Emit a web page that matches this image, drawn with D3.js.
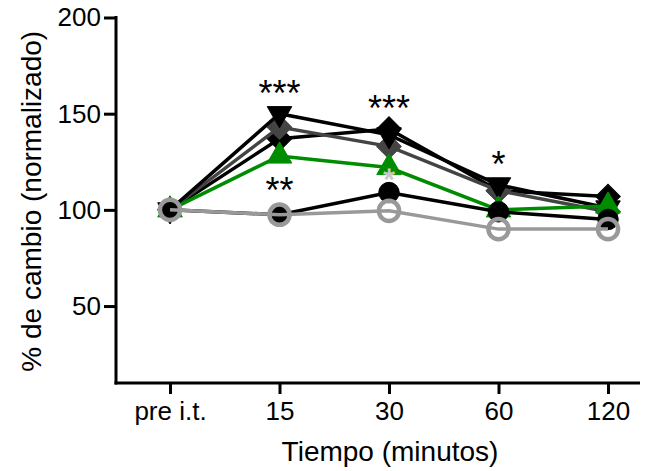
<!DOCTYPE html>
<html>
<head>
<meta charset="utf-8">
<script src="https://cdn.jsdelivr.net/npm/d3@7"></script>
<style>
  body { margin: 0; background: #fff; }
  text { font-family: 'Liberation Sans', Arial, sans-serif; }
</style>
</head>
<body>
<div id="chart"></div>
<script>
const categories = ['pre i.t.', '15', '30', '60', '120'];
const yTicks = [50, 100, 150, 200];

// one array per group, drawn bottom to top
const blackDiamond = [100, 137, 142, 110, 107];
const grayDiamond = [100, 143, 133, 110, 99];
const downTriangle = [100, 150, 139, 113, 101];
const greenTriangle = [100, 128, 122, 100, 102];
const blackCircle = [100, 97.5, 109, 99, 95];
const grayCircle = [100, 97.5, 99.5, 90, 90];

const stars = [
  { cat: '15', value: 150, text: '***', pos: 'above', color: '#000' },
  { cat: '15', value: 128, text: '**', pos: 'below', color: '#000' },
  { cat: '30', value: 142, text: '***', pos: 'above', color: '#000' },
  { cat: '60', value: 113, text: '*', pos: 'above', color: '#000' },
  { cat: '30', value: 122, text: '*', pos: 'inside', color: '#c8c8c8' },
];

const width = 652;
const height = 471;

const svg = d3.select('#chart').append('svg').attr('width', width).attr('height', height);

const x = d3.scalePoint().domain(categories).range([170, 608]);
const y = d3.scaleLinear().domain([10, 200]).range([383, 17.5]);

const axisLeft = 116;
const axisRight = 640;

const series = [
  { values: blackDiamond, color: '#000', fill: '#000', shape: d3.symbolSquare, size: 300, rot: 45 },
  { values: grayDiamond, color: '#444', fill: '#444', shape: d3.symbolSquare, size: 300, rot: 45 },
  { values: downTriangle, color: '#000', fill: '#000', shape: d3.symbolTriangle, size: 260, rot: 180 },
  { values: greenTriangle, color: '#008c00', fill: '#008c00', shape: d3.symbolTriangle, size: 260, rot: 0 },
  { values: blackCircle, color: '#000', fill: '#000', shape: d3.symbolCircle, size: 330, rot: 0 },
  { values: grayCircle, color: '#999', fill: 'none', shape: d3.symbolCircle, size: 320, rot: 0, ring: true },
];

const line = d3.line().x((d, i) => x(categories[i])).y((d) => y(d));

series.forEach((s) => {
  const g = svg.append('g');
  g.append('path')
    .attr('d', line(s.values))
    .attr('fill', 'none')
    .attr('stroke', s.color)
    .attr('stroke-width', 3.5);
  g.selectAll('path.marker')
    .data(s.values)
    .enter()
    .append('path')
    .attr('class', 'marker')
    .attr('d', d3.symbol().type(s.shape).size(s.size))
    .attr('transform', (d, i) => `translate(${x(categories[i])},${y(d)}) rotate(${s.rot})`)
    .attr('fill', s.fill)
    .attr('stroke', s.color)
    .attr('stroke-width', s.ring ? 4.5 : 1);
});

// asterisks
svg.selectAll('.star')
  .data(stars)
  .enter()
  .append('text')
  .attr('class', 'star')
  .attr('x', (d) => x(d.cat))
  .attr('y', (d) => {
    if (d.pos === 'above') return y(d.value) - 8;
    if (d.pos === 'below') return y(d.value) + 47;
    return y(d.value) + 21;
  })
  .attr('text-anchor', 'middle')
  .attr('fill', (d) => d.color)
  .attr('stroke', (d) => (d.pos === 'inside' ? d.color : 'none'))
  .attr('stroke-width', 0.8)
  .style('font-size', (d) => (d.pos === 'inside' ? '30px' : '36px'))
  .text((d) => d.text);

// y axis
const yAxis = svg.append('g')
  .attr('transform', `translate(${axisLeft},0)`)
  .call(d3.axisLeft(y).tickValues(yTicks).tickSize(12).tickSizeOuter(0).tickPadding(3));
yAxis.select('.domain').remove();
yAxis.selectAll('.tick line').attr('stroke-width', 3);
yAxis.selectAll('.tick text')
  .style('font-size', '26px')
  .style('font-family', "'Liberation Sans', Arial, sans-serif")
  .attr('fill', '#000');
svg.append('line')
  .attr('x1', axisLeft).attr('x2', axisLeft)
  .attr('y1', y(200) - 1.5).attr('y2', y(10) + 1.5)
  .attr('stroke', '#000').attr('stroke-width', 3);

// x axis
const xAxis = svg.append('g')
  .attr('transform', `translate(0,${y(10)})`)
  .call(d3.axisBottom(x).tickSize(11).tickSizeOuter(0).tickPadding(8));
xAxis.select('.domain').remove();
xAxis.selectAll('.tick line').attr('stroke-width', 3);
xAxis.selectAll('.tick text')
  .style('font-size', '26px')
  .style('font-family', "'Liberation Sans', Arial, sans-serif")
  .attr('fill', '#000');
svg.append('line')
  .attr('x1', axisLeft - 1.5).attr('x2', axisRight)
  .attr('y1', y(10)).attr('y2', y(10))
  .attr('stroke', '#000').attr('stroke-width', 3);

// axis titles
svg.append('text')
  .attr('x', 390)
  .attr('y', 461)
  .attr('text-anchor', 'middle')
  .style('font-size', '28px')
  .text('Tiempo (minutos)');

svg.append('text')
  .attr('transform', `translate(41,${(y(200) + y(10)) / 2 + 1}) rotate(-90)`)
  .attr('text-anchor', 'middle')
  .style('font-size', '28px')
  .text('% de cambio (normalizado)');
</script>
</body>
</html>
